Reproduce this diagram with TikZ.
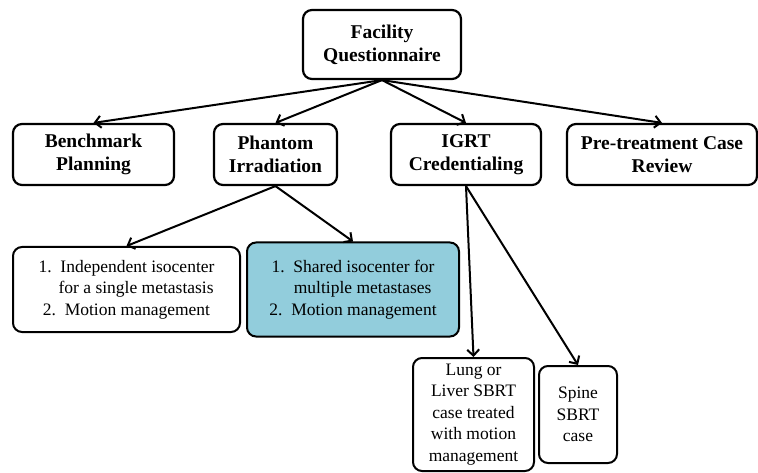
\documentclass[tikz,border=0pt]{standalone}
\usepackage{fontspec}
\setmainfont{Liberation Serif}
\usetikzlibrary{arrows.meta}
\definecolor{lightblue}{HTML}{92CDDC}

\begin{document}
\begin{tikzpicture}[x=1pt,y=1pt]
            \useasboundingbox (0,0) rectangle (758,-473);
            \tikzstyle{main node}=[draw,rounded corners=9pt,line width=2.2pt,align=center,inner sep=2pt,font=\bfseries\fontsize{19.5}{23}\selectfont]
            \tikzstyle{list node}=[main node,line width=2pt,font=\fontsize{17.5}{21.5}\selectfont]
            \tikzstyle{tree arrow}=[-{Straight Barb[length=6pt,width=12pt]},line width=2pt]

            \node[main node,minimum width=158pt,minimum height=69pt] (Q) at (382,-44.5) {Facility\\Questionnaire};
            \node[main node,minimum width=161pt,minimum height=61pt] (B) at (93.5,-154.5) {Benchmark\\Planning};
            \node[main node,minimum width=123pt,minimum height=61pt,node distance=182pt] (P) [right of=B] {Phantom\\Irradiation};
            \node[main node,minimum width=150pt,minimum height=61pt,node distance=190.5pt] (I) [right of=P] {IGRT\\Credentialing};
            \node[main node,minimum width=190pt,minimum height=61pt,node distance=196pt] (R) [right of=I] {Pre-treatment Case\\Review};
            \node[list node,minimum width=227pt,minimum height=85pt,node distance=135pt,xshift=33pt] (S) [below of=B] {1.\ \ Independent isocenter\\\hspace*{1.1em}for a single metastasis\\2.\ \ Motion management};
            \node[list node,fill=lightblue,minimum width=212pt,minimum height=94pt,node distance=226.5pt] (M) [right of=S] {1.\ \ Shared isocenter for\\\hspace*{1.1em}multiple metastases\\2.\ \ Motion management};
            \node[list node,minimum width=121pt,minimum height=113pt,node distance=260pt,xshift=7.5pt] (L) [below of=I] {Lung or\\Liver SBRT\\case treated\\with motion\\management};
            \node[list node,minimum width=78pt,minimum height=97pt,node distance=104.5pt] (T) [right of=L] {Spine\\SBRT\\case};

            \draw[tree arrow] (Q.south) -- (B.north);
            \draw[tree arrow] (Q.south) -- (P.north);
            \draw[tree arrow] (Q.south) -- (I.north);
            \draw[tree arrow] (Q.south) -- (R.north);
            \draw[tree arrow] (P.south) -- (S.north);
            \draw[tree arrow] (P.south) -- (M.north);
            \draw[tree arrow] (I.south) -- (L.north);
            \draw[tree arrow] (I.south) -- (T.north);
        \end{tikzpicture}
\end{document}
